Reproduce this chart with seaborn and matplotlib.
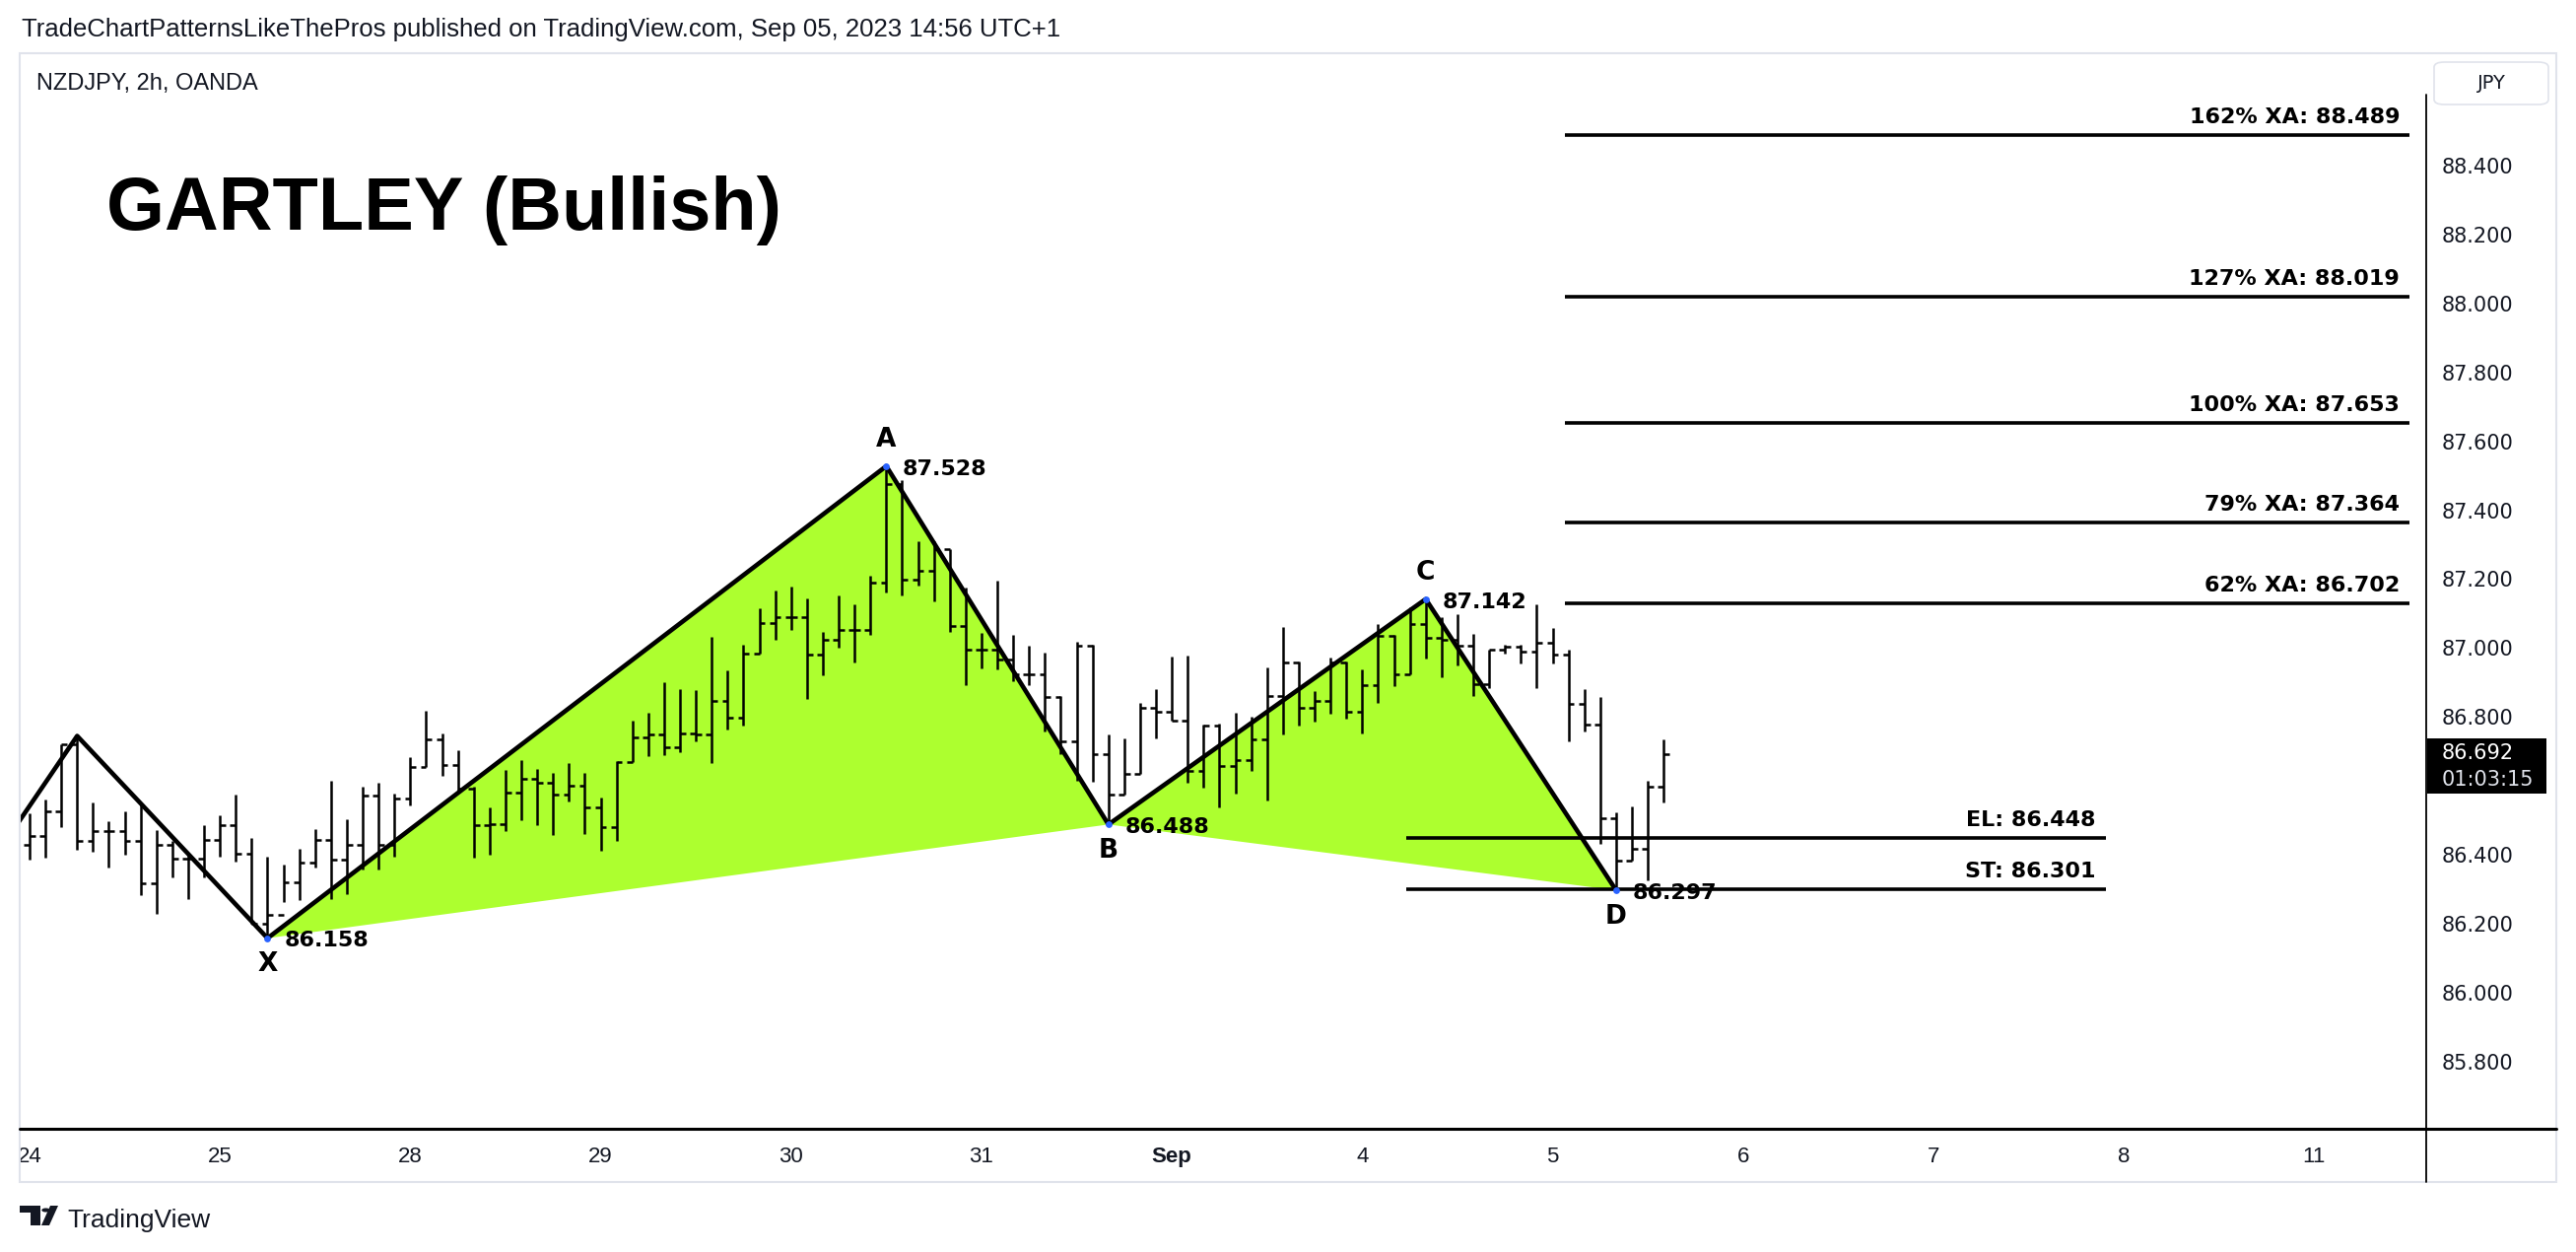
import matplotlib
matplotlib.use("Agg")
import matplotlib.pyplot as plt
import matplotlib.transforms as mtransforms
from matplotlib.lines import Line2D
from matplotlib.patches import Rectangle, FancyBboxPatch, Polygon, Circle
import seaborn as sns

W, H = 2614, 1270

# NZDJPY 2h OHLC bars
opens = [86.430, 86.454, 86.525, 86.721, 86.439, 86.470, 86.470, 86.439, 86.317, 86.430,
         86.390, 86.390, 86.444, 86.485, 86.402, 86.201, 86.225, 86.320, 86.376, 86.442,
         86.387, 86.430, 86.573, 86.428, 86.563, 86.654, 86.734, 86.660, 86.592, 86.487,
         86.490, 86.580, 86.620, 86.608, 86.574, 86.600, 86.539, 86.480, 86.670, 86.740,
         86.749, 86.711, 86.751, 86.749, 86.847, 86.797, 86.984, 87.073, 87.091, 87.091,
         86.980, 87.025, 87.054, 87.054, 87.191, 87.476, 87.199, 87.225, 87.288, 87.063,
         86.994, 86.994, 86.968, 86.923, 86.923, 86.859, 86.728, 87.006, 86.693, 86.576,
         86.634, 86.828, 86.814, 86.788, 86.644, 86.774, 86.659, 86.674, 86.736, 86.860,
         86.959, 86.828, 86.848, 86.959, 86.814, 86.891, 87.034, 86.925, 87.070, 87.030,
         87.023, 87.006, 86.894, 86.996, 87.004, 86.989, 87.015, 86.980, 86.837, 86.777,
         86.506, 86.384, 86.417, 86.597]
highs = [86.520, 86.560, 86.721, 86.745, 86.551, 86.497, 86.525, 86.549, 86.473, 86.439,
         86.406, 86.487, 86.516, 86.576, 86.449, 86.396, 86.373, 86.417, 86.475, 86.616,
         86.503, 86.597, 86.609, 86.578, 86.683, 86.819, 86.751, 86.704, 86.597, 86.539,
         86.646, 86.675, 86.649, 86.637, 86.666, 86.637, 86.566, 86.673, 86.789, 86.811,
         86.900, 86.880, 86.878, 87.032, 86.935, 87.011, 87.115, 87.168, 87.178, 87.143,
         87.048, 87.154, 87.126, 87.209, 87.528, 87.488, 87.310, 87.311, 87.288, 87.176,
         87.044, 87.197, 87.038, 87.006, 86.987, 86.860, 87.018, 87.010, 86.748, 86.737,
         86.840, 86.880, 86.975, 86.978, 86.779, 86.780, 86.813, 86.802, 86.944, 87.061,
         86.961, 86.875, 86.972, 86.961, 86.937, 87.070, 87.037, 87.118, 87.142, 87.090,
         87.097, 87.042, 86.996, 87.010, 87.010, 87.128, 87.058, 86.994, 86.880, 86.858,
         86.522, 86.541, 86.615, 86.735]
lows = [86.387, 86.392, 86.480, 86.416, 86.408, 86.363, 86.401, 86.282, 86.228, 86.334,
        86.272, 86.334, 86.396, 86.379, 86.201, 86.158, 86.263, 86.268, 86.363, 86.272,
        86.287, 86.358, 86.358, 86.396, 86.544, 86.654, 86.630, 86.587, 86.392, 86.401,
        86.468, 86.501, 86.485, 86.458, 86.554, 86.460, 86.413, 86.439, 86.668, 86.687,
        86.690, 86.697, 86.730, 86.666, 86.763, 86.775, 86.984, 87.023, 87.052, 86.852,
        86.920, 87.001, 86.958, 87.038, 87.162, 87.152, 87.181, 87.135, 87.047, 86.892,
        86.941, 86.938, 86.905, 86.892, 86.758, 86.693, 86.615, 86.611, 86.488, 86.575,
        86.634, 86.737, 86.788, 86.608, 86.594, 86.539, 86.577, 86.643, 86.557, 86.748,
        86.775, 86.786, 86.808, 86.794, 86.751, 86.842, 86.889, 86.925, 86.970, 86.915,
        86.951, 86.861, 86.883, 86.985, 86.956, 86.883, 86.956, 86.729, 86.759, 86.433,
        86.297, 86.384, 86.327, 86.551]
closes = [86.454, 86.525, 86.721, 86.439, 86.470, 86.470, 86.439, 86.317, 86.430, 86.390,
          86.390, 86.444, 86.485, 86.402, 86.201, 86.225, 86.320, 86.376, 86.442, 86.387,
          86.430, 86.573, 86.428, 86.563, 86.654, 86.734, 86.660, 86.592, 86.487, 86.490,
          86.580, 86.620, 86.608, 86.574, 86.600, 86.539, 86.480, 86.670, 86.740, 86.749,
          86.711, 86.751, 86.749, 86.847, 86.797, 86.984, 87.073, 87.091, 87.091, 86.980,
          87.025, 87.054, 87.054, 87.191, 87.476, 87.199, 87.225, 87.288, 87.063, 86.994,
          86.994, 86.968, 86.923, 86.923, 86.859, 86.728, 87.006, 86.693, 86.576, 86.634,
          86.828, 86.814, 86.788, 86.644, 86.774, 86.659, 86.674, 86.736, 86.860, 86.959,
          86.828, 86.848, 86.959, 86.814, 86.891, 87.034, 86.925, 87.070, 87.030, 87.023,
          87.006, 86.894, 86.996, 87.004, 86.989, 87.015, 86.980, 86.837, 86.777, 86.506,
          86.384, 86.417, 86.597, 86.692]
bar_idx = list(range(len(closes)))

day_pos = [0, 12, 24, 36, 48, 60, 72, 84, 96, 108, 120, 132, 144]
day_labels = ["24", "25", "28", "29", "30", "31", "Sep", "4", "5", "6", "7", "8", "11"]
# 86.600 sits under the last-price marker, so it is not shown
price_ticks = [85.8, 86.0, 86.2, 86.4, 86.8, 87.0, 87.2, 87.4, 87.6, 87.8, 88.0, 88.2, 88.4]

# zigzag (first point is off-screen to the left)
zz_bar = [-1, 3, 15, 54, 68, 88, 100]
zz_price = [86.474, 86.745, 86.158, 87.528, 86.488, 87.142, 86.297]
pt_names = ["X", "A", "B", "C", "D"]
pt_side = [-1, 1, -1, 1, -1]  # label below / above

fib_labels = ["162% XA: 88.489", "127% XA: 88.019", "100% XA: 87.653",
              "79% XA: 87.364", "62% XA: 86.702"]
fib_levels = [88.489, 88.019, 87.653, 87.364, 87.131]
fib_span = (96.8, 150.0)
trade_labels = ["EL: 86.448", "ST: 86.301"]
trade_levels = [86.448, 86.301]
trade_span = (86.8, 130.9)
countdown = "01:03:15"

TXT = "#131722"
GREEN = "#adff2f"


def fxy(px, py):
    # reference pixel (from top-left) -> figure fraction
    return px / W, 1 - py / H


sns.set_style("white")
plt.rcParams["font.family"] = ["Liberation Sans", "DejaVu Sans"]

fig = plt.figure(figsize=(W / 100, H / 100), dpi=100)
ax = fig.add_axes([20 / W, 1 - 1145 / H, (2462 - 20) / W, (1145 - 96) / H])

# harmonic pattern fill
ax.fill(zz_bar[2:5], zz_price[2:5], color=GREEN, lw=0, zorder=1)
ax.fill(zz_bar[4:7], zz_price[4:7], color=GREEN, lw=0, zorder=1)

# OHLC bars
ax.vlines(bar_idx, lows, highs, color="black", lw=1.8, zorder=2)
ax.hlines(opens, [i - 0.36 for i in bar_idx], bar_idx, color="black", lw=1.8, zorder=2)
ax.hlines(closes, bar_idx, [i + 0.36 for i in bar_idx], color="black", lw=1.8, zorder=2)

# zigzag
sns.lineplot(x=zz_bar, y=zz_price, sort=False, estimator=None, color="black",
             lw=3.3, ax=ax, zorder=4)
ax.scatter(zz_bar[2:], zz_price[2:], s=24, color="#2962ff", zorder=5, lw=0)

bold = dict(family="DejaVu Sans", weight="bold", color="black")
for name, side, b, p in zip(pt_names, pt_side, zz_bar[2:], zz_price[2:]):
    ax.annotate(name, (b, p), xytext=(0, 19 * side), textcoords="offset points",
                ha="center", va="center", fontsize=19, **bold)
    ax.annotate(f"{p:.3f}", (b, p), xytext=(12, -2), textcoords="offset points",
                ha="left", va="center", fontsize=16, **bold)

# fib projections and trade levels
ax.hlines(fib_levels, fib_span[0], fib_span[1], color="black", lw=2.6, zorder=4)
for lab, lev in zip(fib_labels, fib_levels):
    ax.annotate(lab, (fib_span[1], lev), xytext=(-7, 13), textcoords="offset points",
                ha="right", va="center", fontsize=16, **bold)
ax.hlines(trade_levels, trade_span[0], trade_span[1], color="black", lw=2.6, zorder=4)
for lab, lev in zip(trade_labels, trade_levels):
    ax.annotate(lab, (trade_span[1], lev), xytext=(-8, 13), textcoords="offset points",
                ha="right", va="center", fontsize=16, **bold)

ax.set_xlim(-0.621, 151.06)
ax.set_ylim(85.605, 88.606)
ax.set_xlabel("")
ax.set_ylabel("")
for s in ax.spines.values():
    s.set_visible(False)

ax.set_xticks(day_pos)
ax.set_xticklabels(day_labels, fontsize=16, color=TXT)
ax.get_xticklabels()[6].set_fontweight("bold")
ax.tick_params(axis="x", length=0, pad=13)

ax.yaxis.tick_right()
ax.set_yticks(price_ticks)
ax.set_yticklabels([f"{p:.3f}" for p in price_ticks], fontsize=15, color=TXT,
                   family="DejaVu Sans")
ax.tick_params(axis="y", length=0, pad=11.5)

# last price marker
last = closes[-1]
blend = mtransforms.blended_transform_factory(ax.transAxes, ax.transData)
ax.add_patch(Rectangle((1.0005, last - 0.114), 0.0495, 0.16, transform=blend,
                       facecolor="black", edgecolor="none", clip_on=False, zorder=6))
ax.annotate(f"{last:.3f}", (1, last), xycoords=blend, xytext=(11.5, 1),
            textcoords="offset points", ha="left", va="center", fontsize=15,
            color="white", family="DejaVu Sans", zorder=7, annotation_clip=False)
ax.annotate(countdown, (1, last), xycoords=blend, xytext=(11.5, -19),
            textcoords="offset points", ha="left", va="center", fontsize=15,
            color="#e0e3eb", family="DejaVu Sans", zorder=7, annotation_clip=False)

# chrome: frame, axis lines, header texts
fig.add_artist(Rectangle(fxy(20, 1199), (2594 - 20) / W, (1199 - 54) / H,
                         transform=fig.transFigure, fill=False, edgecolor="#e0e3eb", lw=1.5))
fig.add_artist(Line2D([2462 / W, 2462 / W], [1 - 96 / H, 1 - 1199 / H],
                      transform=fig.transFigure, color="black", lw=1.3))
fig.add_artist(Line2D([20 / W, 2594 / W], [1 - 1145 / H, 1 - 1145 / H],
                      transform=fig.transFigure, color="black", lw=2.2))
fig.add_artist(FancyBboxPatch(fxy(2470, 106), 116 / W, 43 / H,
                              boxstyle="round,pad=0,rounding_size=0.004",
                              transform=fig.transFigure, facecolor="white",
                              edgecolor="#e0e3eb", lw=1.2))
fig.text(*fxy(2528, 85), "JPY", ha="center", va="center", fontsize=14,
         color=TXT, family="DejaVu Sans")

fig.text(*fxy(22, 30),
         "TradeChartPatternsLikeThePros published on TradingView.com, Sep 05, 2023 14:56 UTC+1",
         ha="left", va="center", fontsize=18.5, color=TXT)
fig.text(*fxy(37, 85), "NZDJPY, 2h, OANDA", ha="left", va="center",
         fontsize=17, color=TXT)
fig.text(*fxy(108, 233), "GARTLEY (Bullish)", ha="left", va="baseline",
         fontsize=54.5, fontweight="bold", color="black")

# TradingView logo mark
fig.add_artist(Polygon([fxy(20, 1223), fxy(41, 1223), fxy(41, 1243), fxy(31, 1243),
                        fxy(31, 1230), fxy(20, 1230)], closed=True,
                       transform=fig.transFigure, facecolor=TXT, edgecolor="none"))
fig.add_artist(Circle(fxy(46.5, 1227.5), 4.2 / W, transform=fig.transFigure,
                      facecolor=TXT, edgecolor="none"))
fig.add_artist(Polygon([fxy(51, 1223), fxy(59, 1223), fxy(50, 1243), fxy(42, 1243)],
                       closed=True, transform=fig.transFigure, facecolor=TXT,
                       edgecolor="none"))
fig.text(*fxy(68, 1245), "TradingView", ha="left", va="baseline", fontsize=19,
         color=TXT)

fig.savefig("out.png", dpi=100)
